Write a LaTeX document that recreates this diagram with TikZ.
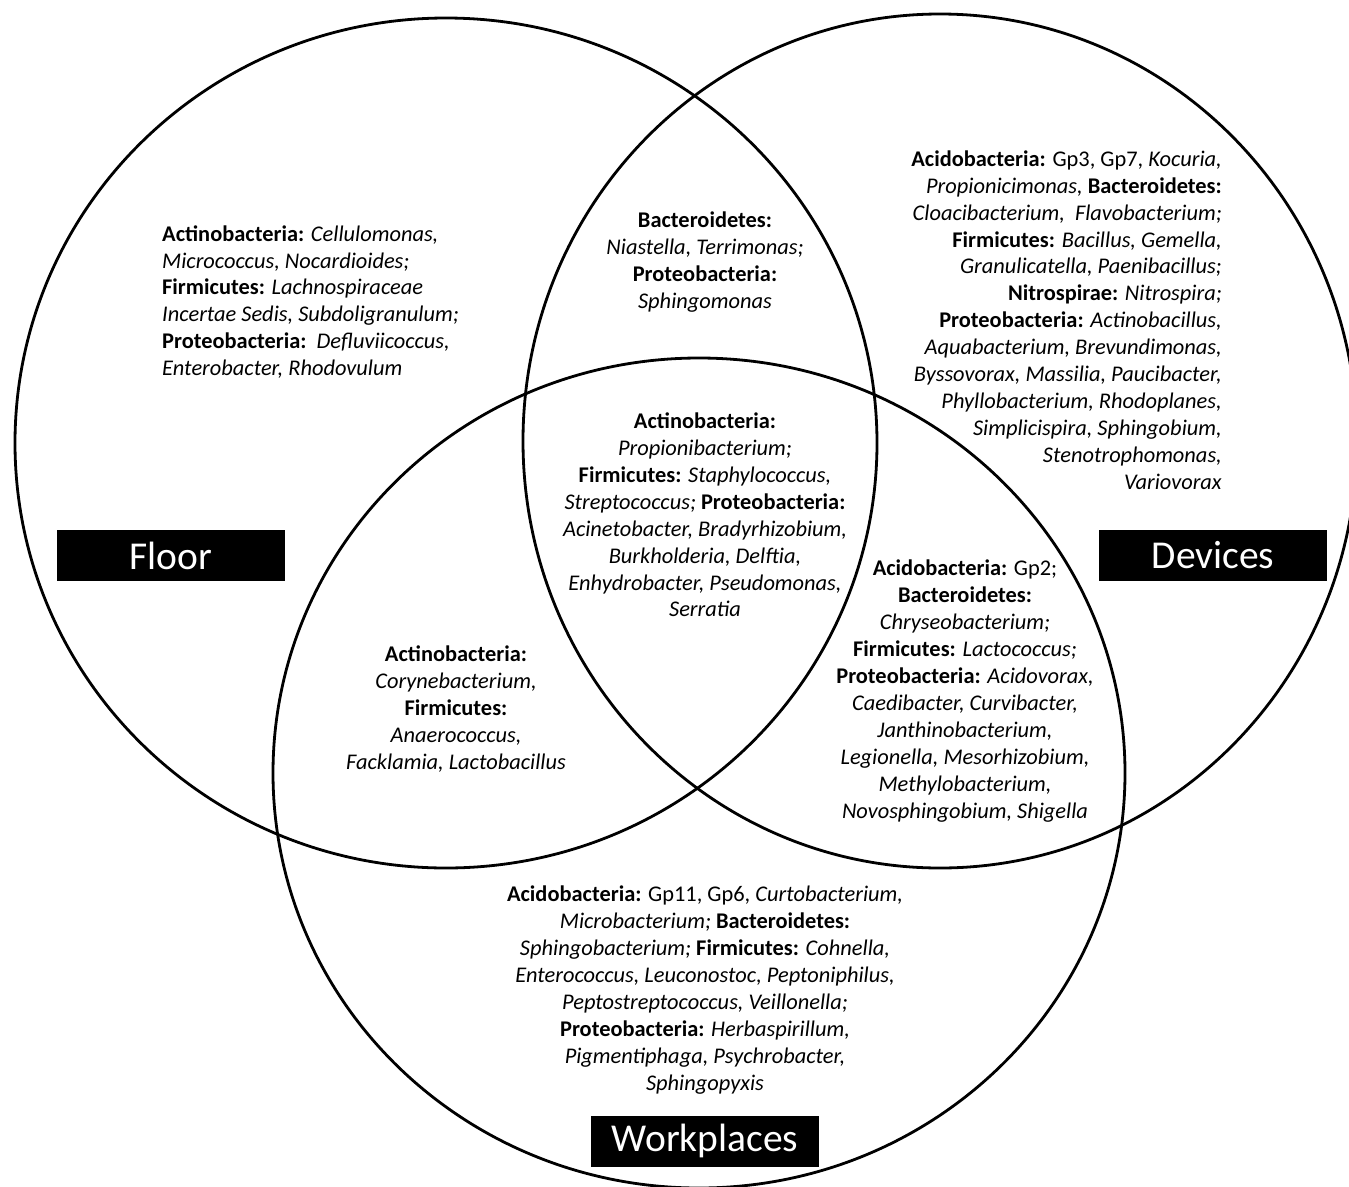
\documentclass[tikz,border=0pt]{standalone}
\usepackage{fontspec}
\setmainfont{Carlito}
\newcommand{\phylum}[1]{\textbf{#1}}
\newcommand{\genus}[1]{\textit{#1}}
\tikzset{
  setring/.style={draw=black, line width=2.8pt},
  listtext/.style={inner sep=0pt, font=\fontsize{22.4}{26.9}\selectfont},
  tagbox/.style={fill=black, text=white, inner sep=0pt, minimum width=228pt, minimum height=51pt, font=\fontsize{39.5}{41}\selectfont}
}
\begin{document}
\begin{tikzpicture}[x=1pt,y=-1pt]
\useasboundingbox (0,0) rectangle (1349,1186);
\fill[white] (0,0) rectangle (1349,1186);
\begin{scope}
\clip (0,0) rectangle (1349,1186);
\draw[setring] (446,443) ellipse [x radius=431pt, y radius=425pt];
\draw[setring] (940,441) ellipse [x radius=417pt, y radius=427pt];
\draw[setring] (699,773) ellipse [x radius=426pt, y radius=415pt];
\end{scope}

\node[listtext, align=left, anchor=west] (floortext) at (162,302) {%
\phylum{Actinobacteria:} \genus{Cellulomonas,}\\
\genus{Micrococcus, Nocardioides;}\\
\phylum{Firmicutes:} \genus{Lachnospiraceae}\\
\genus{Incertae Sedis, Subdoligranulum;}\\
\phylum{Proteobacteria:}\ \ \genus{Defluviicoccus,}\\
\genus{Enterobacter, Rhodovulum}};

\node[listtext, align=center] (fdtext) at (705,262) {%
\phylum{Bacteroidetes:}\\
\genus{Niastella, Terrimonas;}\\
\phylum{Proteobacteria:}\\
\genus{Sphingomonas}};

\node[listtext, align=right, anchor=east] (devtext) at (1222,320) {%
\phylum{Acidobacteria:} Gp3, Gp7, \genus{Kocuria,}\\
\genus{Propionicimonas,} \phylum{Bacteroidetes:}\\
\genus{Cloacibacterium,\ \ Flavobacterium;}\\
\phylum{Firmicutes:} \genus{Bacillus, Gemella,}\\
\genus{Granulicatella, Paenibacillus;}\\
\phylum{Nitrospirae:} \genus{Nitrospira;}\\
\phylum{Proteobacteria:} \genus{Actinobacillus,}\\
\genus{Aquabacterium, Brevundimonas,}\\
\genus{Byssovorax, Massilia, Paucibacter,}\\
\genus{Phyllobacterium, Rhodoplanes,}\\
\genus{Simplicispira, Sphingobium,}\\
\genus{Stenotrophomonas,}\\
\genus{Variovorax}};

\node[listtext, align=center] (alltext) at (705,515) {%
\phylum{Actinobacteria:}\\
\genus{Propionibacterium;}\\
\phylum{Firmicutes:} \genus{Staphylococcus,}\\
\genus{Streptococcus;} \phylum{Proteobacteria:}\\
\genus{Acinetobacter, Bradyrhizobium,}\\
\genus{Burkholderia, Delftia,}\\
\genus{Enhydrobacter, Pseudomonas,}\\
\genus{Serratia}};

\node[listtext, align=center] (fwtext) at (456,709) {%
\phylum{Actinobacteria:}\\
\genus{Corynebacterium,}\\
\phylum{Firmicutes:}\\
\genus{Anaerococcus,}\\
\genus{Facklamia, Lactobacillus}};

\node[listtext, align=center] (dwtext) at (965,691) {%
\phylum{Acidobacteria:} Gp2;\\
\phylum{Bacteroidetes:}\\
\genus{Chryseobacterium;}\\
\phylum{Firmicutes:} \genus{Lactococcus;}\\
\phylum{Proteobacteria:} \genus{Acidovorax,}\\
\genus{Caedibacter, Curvibacter,}\\
\genus{Janthinobacterium,}\\
\genus{Legionella, Mesorhizobium,}\\
\genus{Methylobacterium,}\\
\genus{Novosphingobium, Shigella}};

\node[listtext, align=center] (worktext) at (705,990) {%
\phylum{Acidobacteria:} Gp11, Gp6, \genus{Curtobacterium,}\\
\genus{Microbacterium;} \phylum{Bacteroidetes:}\\
\genus{Sphingobacterium;} \phylum{Firmicutes:} \genus{Cohnella,}\\
\genus{Enterococcus, Leuconostoc, Peptoniphilus,}\\
\genus{Peptostreptococcus, Veillonella;}\\
\phylum{Proteobacteria:} \genus{Herbaspirillum,}\\
\genus{Pigmentiphaga, Psychrobacter,}\\
\genus{Sphingopyxis}};

\node[tagbox] (floorlabel) at (171,555.5) {Floor};
\node[tagbox] (devlabel) at (1213,555.5) {Devices};
\node[tagbox] (worklabel) at (705,1141) {Workplaces};
\end{tikzpicture}
\end{document}
